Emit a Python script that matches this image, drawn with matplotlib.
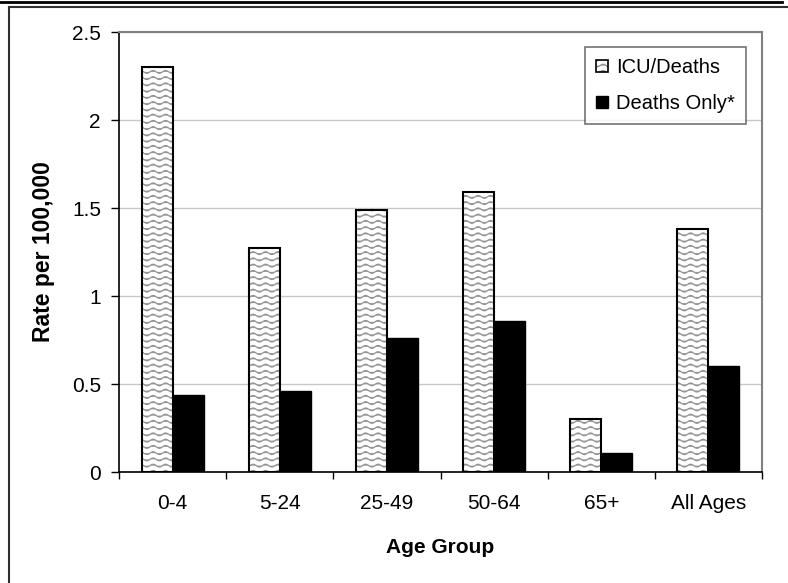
import warnings
import numpy as np
import matplotlib
matplotlib.use('Agg')
import matplotlib.pyplot as plt
from matplotlib import hatch as mhatch
from matplotlib.path import Path
from matplotlib.patches import Patch
from matplotlib.lines import Line2D

warnings.filterwarnings('ignore')

groups = ['0-4', '5-24', '25-49', '50-64', '65+', 'All Ages']
icu_deaths = [2.30, 1.27, 1.49, 1.59, 0.30, 1.38]
deaths_only = [0.44, 0.46, 0.76, 0.86, 0.11, 0.60]
yticks = [0, 0.5, 1, 1.5, 2, 2.5]
ytick_labels = ['0', '0.5', '1', '1.5', '2', '2.5']


# wavy fill like the old excel pattern
class WaveHatch(mhatch.HatchPatternBase):
    def __init__(self, hatch, density):
        self.rows = 16 if '~' in hatch else 0
        self.seg = 97
        self.num_vertices = self.rows * self.seg

    def set_vertices_and_codes(self, vertices, codes):
        x = np.linspace(0, 1, self.seg)
        wave = 0.014 * np.sin(2 * np.pi * 8 * x)
        for i in range(self.rows):
            s = slice(i * self.seg, (i + 1) * self.seg)
            vertices[s, 0] = x
            vertices[s, 1] = (i + 0.5) / self.rows + wave
            codes[s] = Path.LINETO
            codes[i * self.seg] = Path.MOVETO


mhatch._hatch_types.append(WaveHatch)

plt.rcParams['font.family'] = ['Liberation Sans', 'DejaVu Sans']
plt.rcParams['hatch.linewidth'] = 0.9

fig = plt.figure(figsize=(7.88, 5.83), dpi=100)
ax = fig.add_axes([119 / 788, 1 - 472 / 583, (762 - 119) / 788, (472 - 32) / 583])

x = np.arange(len(groups)) + 0.5
w = 0.29

ax.bar(x - w / 2, icu_deaths, w, facecolor='white', edgecolor='#949494',
       linewidth=0, hatch='~', zorder=3)
ax.bar(x - w / 2, icu_deaths, w, fill=False, edgecolor='black',
       linewidth=1.5, zorder=4)
ax.bar(x + w / 2, deaths_only, w, color='black', edgecolor='black',
       linewidth=1.0, zorder=3)

ax.set_xlim(0, len(groups))
ax.set_ylim(0, 2.5)
ax.set_yticks(yticks)
ax.set_yticklabels(ytick_labels)
ax.set_xticks(np.arange(len(groups) + 1), minor=False)
ax.set_xticklabels([''] * (len(groups) + 1))
ax.set_xticks(x, minor=True)
ax.set_xticklabels(groups, minor=True)
ax.tick_params(axis='x', which='minor', length=0, pad=16, labelsize=15)
ax.tick_params(axis='x', which='major', length=5, width=1, direction='out')
ax.tick_params(axis='y', length=6, width=1, pad=7, labelsize=15)

ax.grid(axis='y', color='#c8c8c8', linewidth=1, zorder=0)
ax.set_axisbelow(True)

ax.spines['left'].set_color('black')
ax.spines['bottom'].set_color('black')
ax.spines['left'].set_linewidth(1.2)
ax.spines['bottom'].set_linewidth(1.2)
ax.spines['top'].set_color('#808080')
ax.spines['right'].set_color('#808080')
ax.spines['top'].set_linewidth(1.5)
ax.spines['right'].set_linewidth(1.5)

ax.set_ylabel('Rate per 100,000', fontsize=16.5, fontweight='bold', labelpad=12)
ax.set_xlabel('Age Group', fontsize=15, fontweight='bold', labelpad=18)

h_icu = (Patch(facecolor='white', edgecolor='#949494', hatch='~', linewidth=0),
         Patch(fill=False, edgecolor='black', linewidth=1.2))
h_deaths = Patch(facecolor='black', edgecolor='black')
leg = ax.legend([h_icu, h_deaths], ['ICU/Deaths', 'Deaths Only*'],
                loc='upper right', bbox_to_anchor=(746 / 788, 1 - 47 / 583),
                bbox_transform=fig.transFigure, fontsize=14.5, frameon=True,
                fancybox=False, edgecolor='#505050', handlelength=0.6,
                handleheight=0.6, handletextpad=0.4, labelspacing=0.85,
                borderpad=0.55, borderaxespad=0)
leg.get_frame().set_linewidth(1.2)

# outer border of the original sheet
fig.add_artist(Line2D([0, 782 / 788], [1 - 1.5 / 583] * 2, color='black',
                      linewidth=2, transform=fig.transFigure))
fig.add_artist(Line2D([9 / 788, 1], [1 - 7 / 583] * 2, color='#303030',
                      linewidth=1.5, transform=fig.transFigure))
fig.add_artist(Line2D([9 / 788] * 2, [0, 1 - 7 / 583], color='#303030',
                      linewidth=1.5, transform=fig.transFigure))

fig.savefig('out.png', dpi=100)
